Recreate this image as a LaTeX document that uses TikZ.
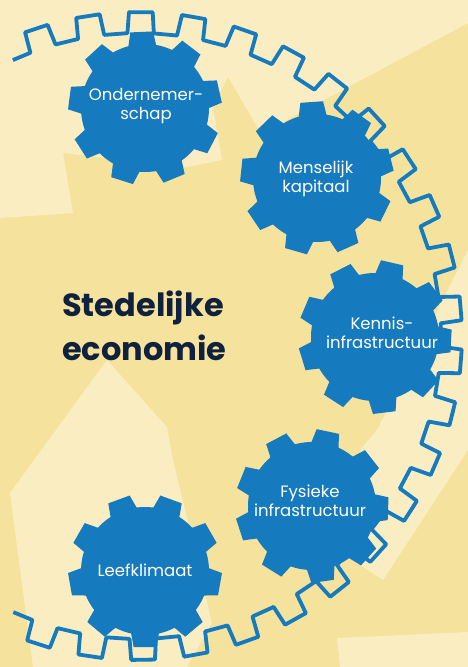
\documentclass[tikz,border=0pt]{standalone}
\usepackage{fontspec}
\setmainfont{Poppins}
\definecolor{bgyel}{RGB}{245,227,157}
\definecolor{bglt}{RGB}{250,237,193}
\definecolor{gblue}{RGB}{22,122,190}
\definecolor{navy}{RGB}{16,33,62}
\tikzset{
  ringline/.style={draw=gblue,line width=3.8pt,line join=round},
  gearlabel/.style={text=white,align=center,font=\fontsize{16.5}{19.5}\selectfont,inner sep=0pt},
  titlelabel/.style={text=navy,align=left,font=\fontsize{32}{44}\selectfont\bfseries,inner sep=0pt}
}
\newcommand\gearbody[2]{%
  \fill[gblue,shift={#1}] (0,0) circle[radius=64];
  \foreach \k in {0,...,8}{%
    \fill[gblue,shift={#1}] ({#2+40*\k-16}:56) -- ({#2+40*\k-8.5}:77) -- ({#2+40*\k+8.5}:77) -- ({#2+40*\k+16}:56) -- cycle;
  }%
}
\begin{document}
\begin{tikzpicture}[x=1pt,y=-1pt]
\useasboundingbox (0,0) rectangle (468,667);
% background
\fill[bgyel] (0,0) rectangle (468,667);
\fill[bglt] (0,0) -- (468,0) -- (468,23) -- (290,118) -- (262,135) -- (228,77) -- (213,107) -- (222,160) -- (187,167) -- (63,153) -- (73,213) -- (0,218) -- cycle;
\fill[bglt] (468,250) -- (468,450) -- (383,580) -- (360,565) -- (360,450) -- (377,430) -- cycle;
\fill[bglt] (107,360) -- (167,427) -- (173,460) -- (212,623) -- (187,667) -- (33,667) -- (10,493) -- cycle;
\fill[bglt] (337,638) -- (468,632) -- (468,667) -- (340,667) -- cycle;
% ring gear
\begin{scope}[shift={(138,336)}]
\draw[ringline] (-114.4:303) \foreach \k in {-2,...,21}{ -- ({-89.5+9.4*\k-2.5}:303) -- ({-89.5+9.4*\k-2.1}:324) -- ({-89.5+9.4*\k+2.1}:324) -- ({-89.5+9.4*\k+2.5}:303) } -- (114.3:303);
\end{scope}
% gears
\gearbody{(145,108)}{-92.5}
\gearbody{(317,178)}{-94}
\gearbody{(375,337)}{-77}
\gearbody{(312,506)}{-78}
\gearbody{(145,571)}{-110}
% labels
\node[gearlabel] (ond) at (146,106) {Ondernemer-\\schap};
\node[gearlabel] (men) at (316,179) {Menselijk\\kapitaal};
\node[gearlabel] (ken) at (382,333) {Kennis-\\infrastructuur};
\node[gearlabel] (fys) at (310,501) {Fysieke\\infrastructuur};
\node[gearlabel] (lee) at (145,570) {Leefklimaat};
\node[titlelabel,anchor=west] (title) at (62,326) {Stedelijke\\economie};
\end{tikzpicture}
\end{document}
